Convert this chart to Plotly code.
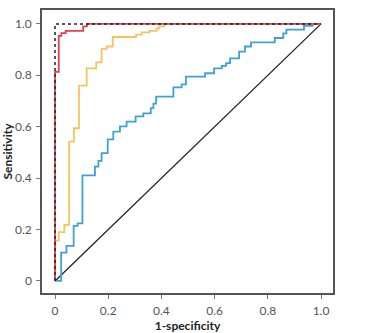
import plotly.graph_objects as go

# ROC curves (step points, horizontal-then-vertical)
red_fpr = [0, 0, 0.014, 0.024, 0.04, 0.106, 0.12, 1.0]
red_tpr = [0, 0.813, 0.953, 0.964, 0.973, 0.99, 1.0, 1.0]

yellow_fpr = [0, 0, 0.014, 0.035, 0.053, 0.071, 0.09, 0.119, 0.155, 0.175, 0.194,
              0.217, 0.305, 0.326, 0.355, 0.382, 0.392, 0.41, 1.0]
yellow_tpr = [0, 0.157, 0.19, 0.218, 0.542, 0.594, 0.76, 0.827, 0.85, 0.903, 0.912,
              0.949, 0.958, 0.967, 0.973, 0.982, 0.99, 1.0, 1.0]

blue_fpr = [0, 0.023, 0.043, 0.07, 0.085, 0.103, 0.15, 0.163, 0.175, 0.198, 0.219,
            0.244, 0.269, 0.303, 0.332, 0.36, 0.37, 0.38, 0.445, 0.476, 0.492, 0.564,
            0.598, 0.627, 0.643, 0.658, 0.692, 0.714, 0.737, 0.826, 0.858, 0.87,
            0.936, 0.968, 1.0]
blue_tpr = [0, 0.11, 0.136, 0.214, 0.224, 0.411, 0.445, 0.467, 0.497, 0.551, 0.581,
            0.601, 0.62, 0.64, 0.652, 0.672, 0.69, 0.717, 0.753, 0.765, 0.795, 0.808,
            0.827, 0.837, 0.847, 0.866, 0.892, 0.912, 0.928, 0.945, 0.963, 0.978,
            0.992, 1.0, 1.0]

ref_x = [0, 1]
ref_y = [0, 1]
perfect_x = [0, 0, 1]
perfect_y = [0, 1, 1]

tick_vals = [0, 0.2, 0.4, 0.6, 0.8, 1.0]
tick_text = ["0", "0.2", "0.4", "0.6", "0.8", "1.0"]

fig = go.Figure()
fig.add_trace(go.Scatter(x=ref_x, y=ref_y, mode="lines",
                         line=dict(color="#222222", width=1.3), showlegend=False))
fig.add_trace(go.Scatter(x=blue_fpr, y=blue_tpr, mode="lines", line_shape="hv",
                         line=dict(color="#3fa2d2", width=1.8), showlegend=False))
fig.add_trace(go.Scatter(x=yellow_fpr, y=yellow_tpr, mode="lines", line_shape="hv",
                         line=dict(color="#f3c462", width=1.8), showlegend=False))
fig.add_trace(go.Scatter(x=red_fpr, y=red_tpr, mode="lines", line_shape="hv",
                         line=dict(color="#d9434f", width=1.8), showlegend=False))
fig.add_trace(go.Scatter(x=perfect_x, y=perfect_y, mode="lines",
                         line=dict(color="#222222", width=1.5, dash="dot"), showlegend=False))

axis_common = dict(
    showgrid=False, zeroline=False, showline=True, linecolor="#555555", linewidth=1.5,
    mirror=True, ticks="outside", ticklen=4, tickcolor="#777777", tickwidth=1,
    tickvals=tick_vals, ticktext=tick_text, ticklabelstandoff=2, automargin=False,
    tickfont=dict(family="Lato", size=12, color="#555555"),
)

fig.update_layout(
    width=368, height=333,
    margin=dict(l=42, r=35, t=10, b=40),
    plot_bgcolor="white", paper_bgcolor="white",
    xaxis=dict(range=[-0.049, 1.045], **axis_common,
               title=dict(text="<b>1-specificity</b>", standoff=6,
                          font=dict(family="Lato", size=12, color="#222222"))),
    yaxis=dict(range=[-0.047, 1.054], **axis_common,
               title=dict(text="<b>Sensitivity</b>", standoff=4,
                          font=dict(family="Lato", size=12, color="#222222"))),
)

fig.write_html("out.html")
